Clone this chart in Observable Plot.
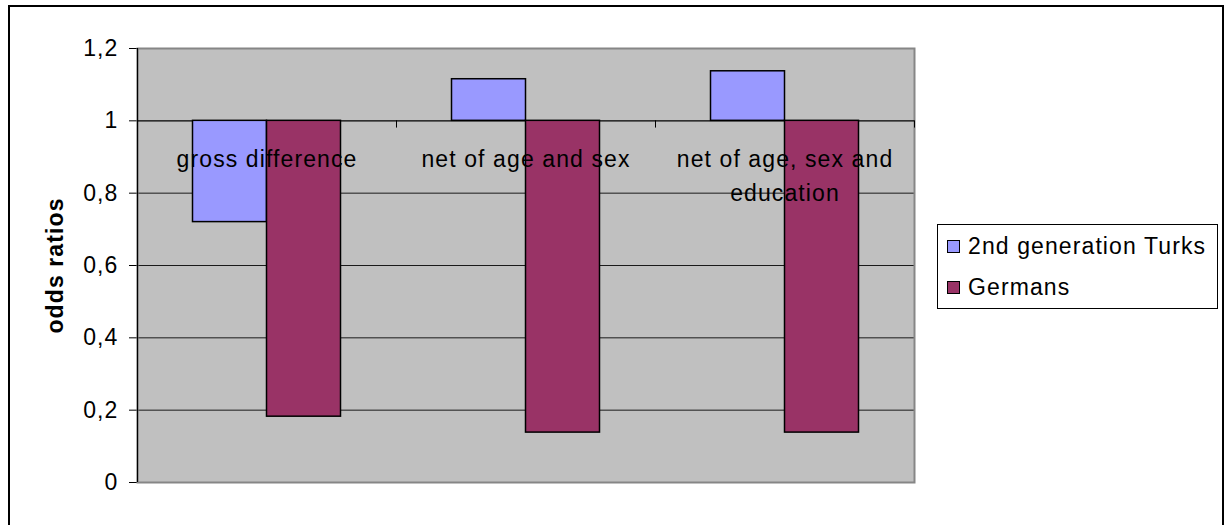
<!DOCTYPE html>
<html>
<head>
<meta charset="utf-8">
<script src="https://cdn.jsdelivr.net/npm/d3@7"></script>
<script src="https://cdn.jsdelivr.net/npm/@observablehq/plot@0.6"></script>
<style>
  html, body { margin: 0; padding: 0; width: 1226px; height: 525px; overflow: hidden; background: #fff; }
  #wrap { position: relative; width: 1226px; height: 525px; }
  #border { position: absolute; left: 8px; top: 5px; width: 1212px; height: 600px; border: 2px solid #000; box-sizing: content-box; }
  #chart { position: absolute; left: 0; top: 0; }
  #legend { position: absolute; left: 937px; top: 224px; width: 279px; height: 83px; border: 1px solid #000; background: #fff;
            font-family: "Liberation Sans", Arial, sans-serif; font-size: 23px; letter-spacing: 1.1px; color: #000; }
  .item { position: absolute; left: 9px; height: 30px; display: flex; align-items: center; }
  .sw { width: 11px; height: 11px; border: 1.5px solid #000; margin-right: 8px; }
</style>
</head>
<body>
<div id="wrap">
  <div id="border"></div>
  <div id="chart"></div>
  <div id="legend"></div>
</div>
<script>
// ---- data ----
const categories = ["gross difference", "net of age and sex", "net of age, sex and education"];
const seriesNames = ["2nd generation Turks", "Germans"];
const turks = [0.72, 1.115, 1.137];
const germans = [0.182, 0.138, 0.138];
const seriesColors = ["#9999FF", "#993366"];
const yTicks = [0, 0.2, 0.4, 0.6, 0.8, 1, 1.2];
const yLabel = "odds ratios";
const baseValue = 1; // category axis crosses at 1

// Excel-style clustered layout: gap width 150% of a bar
const gapWidth = 1.5;
const bw = 1 / (seriesNames.length + gapWidth);

const rowsT = categories.map((c, i) => ({i, c, v: turks[i]}));
const rowsG = categories.map((c, i) => ({i, c, v: germans[i]}));

const font = '"Liberation Sans", Arial, sans-serif';

const chart = Plot.plot({
  width: 1226,
  height: 525,
  marginLeft: 137,
  marginRight: 312,
  marginTop: 48,
  marginBottom: 43,
  style: {fontFamily: font, fontSize: "23px", letterSpacing: "1.1px", color: "#000", background: "transparent", overflow: "visible"},
  x: {type: "linear", domain: [-0.5, categories.length - 0.5], axis: null},
  y: {domain: [0, 1.2], ticks: yTicks, tickSize: 8, tickPadding: 11, tickFormat: d => String(+d.toFixed(1)).replace(".", ","), label: null},
  marks: [
    Plot.frame({fill: "#c0c0c0"}),
    Plot.gridY(yTicks.filter(t => t > 0 && t < 1.2 && t !== baseValue), {stroke: "#1a1a1a", strokeOpacity: 1, strokeWidth: 1}),
    Plot.frame({stroke: "#868686", strokeWidth: 2}),
    Plot.ruleY([baseValue], {stroke: "#000", strokeWidth: 1.2}),
    Plot.ruleX(d3.range(categories.length + 1).map(k => k - 0.5), {y1: baseValue, y2: baseValue - 0.02, stroke: "#000", strokeWidth: 1}),
    Plot.rectY(rowsT, {x1: d => d.i - bw, x2: d => d.i, y1: baseValue, y2: "v", fill: seriesColors[0], stroke: "#000", strokeWidth: 1.5}),
    Plot.rectY(rowsG, {x1: d => d.i, x2: d => d.i + bw, y1: baseValue, y2: "v", fill: seriesColors[1], stroke: "#000", strokeWidth: 1.5}),
    Plot.ruleX([-0.5], {stroke: "#000", strokeWidth: 1.2}),
    Plot.text(rowsT, {x: "i", y: baseValue, text: "c", lineAnchor: "top", dy: 22, lineWidth: 10, lineHeight: 1.48, fill: "#000", fontSize: 23}),
    Plot.text([yLabel], {frameAnchor: "left", textAnchor: "middle", dx: -82, rotate: -90, fontWeight: "bold", fontSize: 23, fill: "#000"})
  ]
});
document.getElementById("chart").appendChild(chart);

// legend
const legend = document.getElementById("legend");
seriesNames.forEach((name, k) => {
  const it = document.createElement("div");
  it.className = "item";
  it.style.top = (6 + k * 41) + "px";
  const sw = document.createElement("span");
  sw.className = "sw";
  sw.style.background = seriesColors[k];
  const tx = document.createElement("span");
  tx.textContent = name;
  it.appendChild(sw); it.appendChild(tx);
  legend.appendChild(it);
});
</script>
</body>
</html>
